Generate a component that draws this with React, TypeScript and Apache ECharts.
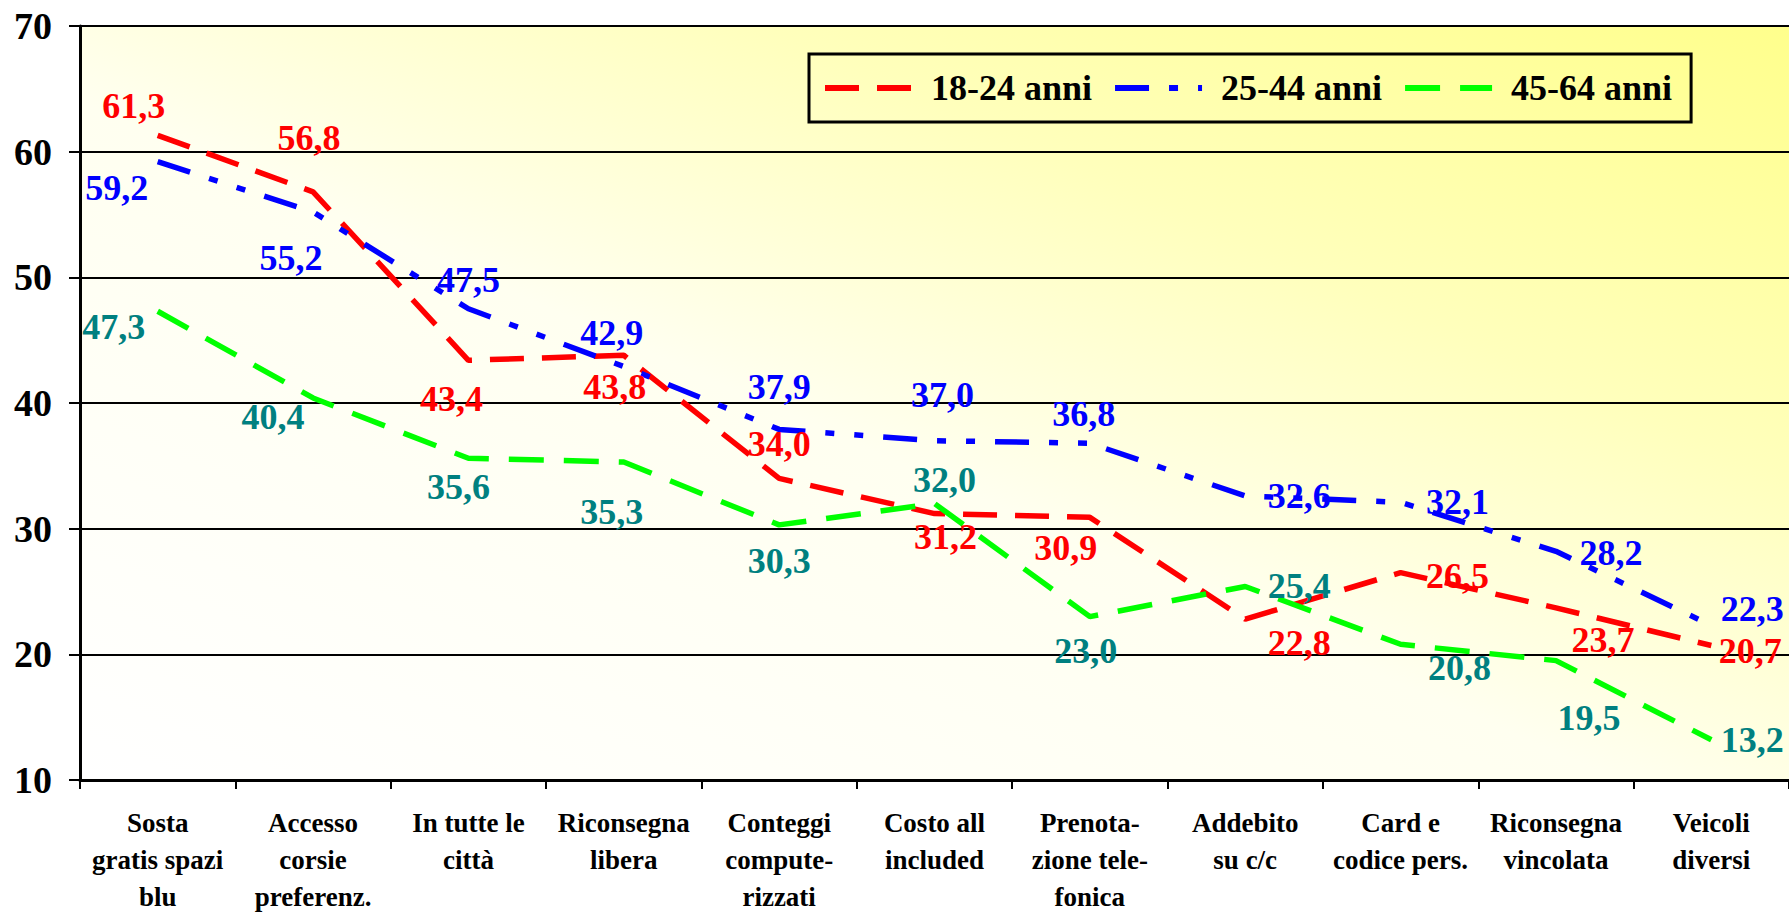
import React, { useEffect, useRef } from "react";
import * as echarts from "echarts";

const categories = [
  "Sosta\ngratis spazi\nblu",
  "Accesso\ncorsie\npreferenz.",
  "In tutte le\ncittà",
  "Riconsegna\nlibera",
  "Conteggi\ncompute-\nrizzati",
  "Costo all\nincluded",
  "Prenota-\nzione tele-\nfonica",
  "Addebito\nsu c/c",
  "Card e\ncodice pers.",
  "Riconsegna\nvincolata",
  "Veicoli\ndiversi",
];

const seriesNames = ["18-24 anni", "25-44 anni", "45-64 anni"];

const values1824 = [61.3, 56.8, 43.4, 43.8, 34.0, 31.2, 30.9, 22.8, 26.5, 23.7, 20.7];
const values2544 = [59.2, 55.2, 47.5, 42.9, 37.9, 37.0, 36.8, 32.6, 32.1, 28.2, 22.3];
const values4564 = [47.3, 40.4, 35.6, 35.3, 30.3, 32.0, 23.0, 25.4, 20.8, 19.5, 13.2];

const yTicks = { min: 10, max: 70, interval: 10 };

// label offsets (layout only)
const offsets1824 = [
  [-24, -29], [-4, -54], [-17, 39], [-9, 32], [0, -34], [11, 23],
  [-24, 31], [54, 24], [57, 3], [47, 32], [39, 5],
];
const offsets2544 = [
  [-41, 26], [-22, 46], [0, -29], [-12, -34], [0, -42], [8, -46],
  [-6, -29], [54, 0], [57, 0], [55, 2], [41, -16],
];
const offsets4564 = [
  [-44, 16], [-40, 19], [-10, 29], [-12, 50], [0, 36], [10, -24],
  [-4, 34], [54, 0], [59, 24], [33, 57], [41, 0],
];

const FONT = "'Liberation Serif', 'Times New Roman', serif";

function makeSeries(
  name: string,
  values: number[],
  offsets: number[][],
  color: string,
  labelColor: string,
  dash: number[]
) {
  return {
    name,
    type: "line",
    data: values.map((v, i) => ({ value: v, label: { offset: offsets[i] } })),
    symbol: "circle",
    symbolSize: 1,
    itemStyle: { color: "rgba(0,0,0,0)" },
    lineStyle: { color, width: 5.5, type: dash },
    label: {
      show: true,
      position: "inside",
      color: labelColor,
      fontFamily: FONT,
      fontWeight: "bold",
      fontSize: 36,
      formatter: (p: any) => Number(p.value).toFixed(1).replace(".", ","),
    },
    emphasis: { disabled: true },
  };
}

export default function App() {
  const ref = useRef<HTMLDivElement>(null);

  useEffect(() => {
    if (!ref.current) return;
    const chart = echarts.init(ref.current, undefined, { renderer: "svg" });
    chart.setOption({
      animation: false,
      backgroundColor: "#ffffff",
      grid: {
        left: 80,
        right: 0,
        top: 26,
        bottom: 125,
        containLabel: false,
        show: true,
        borderWidth: 0,
        backgroundColor: new echarts.graphic.LinearGradient(1, 0, 0, 1, [
          { offset: 0, color: "#ffff8c" },
          { offset: 0.3, color: "#ffffbc" },
          { offset: 0.55, color: "#fffff0" },
          { offset: 1, color: "#ffffff" },
        ]),
      },
      legend: {
        left: 809,
        top: 54,
        padding: [16, 19, 16, 13],
        borderColor: "#000",
        borderWidth: 3,
        itemWidth: 87,
        itemHeight: 14,
        itemGap: 20,
        data: seriesNames,
        lineStyle: { width: 6 },
        textStyle: {
          fontFamily: FONT,
          fontWeight: "bold",
          fontSize: 36,
          color: "#000",
          padding: [0, 0, 0, 14],
        },
      },
      xAxis: {
        type: "category",
        data: categories,
        boundaryGap: true,
        axisLine: { lineStyle: { color: "#000", width: 3 } },
        axisTick: { show: true, alignWithLabel: false, length: 9, lineStyle: { color: "#000", width: 2 } },
        axisLabel: {
          interval: 0,
          margin: 24,
          fontFamily: FONT,
          fontWeight: "bold",
          fontSize: 27,
          lineHeight: 37,
          color: "#000",
        },
      },
      yAxis: {
        type: "value",
        min: yTicks.min,
        max: yTicks.max,
        interval: yTicks.interval,
        axisLine: { show: true, lineStyle: { color: "#000", width: 3 } },
        axisTick: { show: true, length: 11, lineStyle: { color: "#000", width: 2 } },
        splitLine: { show: true, lineStyle: { color: "#000", width: 2 } },
        axisLabel: {
          margin: 28,
          fontFamily: FONT,
          fontWeight: "bold",
          fontSize: 38,
          color: "#000",
        },
      },
      series: [
        makeSeries(seriesNames[0], values1824, offsets1824, "#ff0000", "#ff0000", [34, 18]),
        makeSeries(seriesNames[1], values2544, offsets2544, "#0000ff", "#0000ff", [34, 20, 9, 20, 9, 20]),
        makeSeries(seriesNames[2], values4564, offsets4564, "#00ff00", "#008080", [35, 20]),
      ],
    });
    return () => chart.dispose();
  }, []);

  return (
    <div
      ref={ref}
      style={{ position: "fixed", left: 0, top: 0, width: 1789, height: 915 }}
    />
  );
}
